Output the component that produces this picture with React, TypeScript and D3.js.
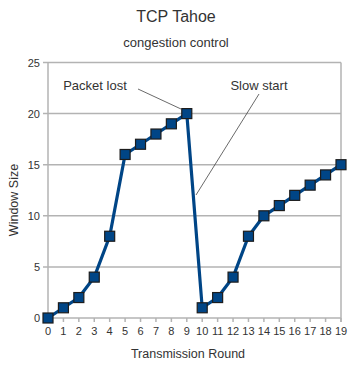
import React from "react";
import * as d3 from "d3";

// transmission rounds and congestion window size
const rounds = [0, 1, 2, 3, 4, 5, 6, 7, 8, 9, 10, 11, 12, 13, 14, 15, 16, 17, 18, 19];
const windowSize = [0, 1, 2, 4, 8, 16, 17, 18, 19, 20, 1, 2, 4, 8, 10, 11, 12, 13, 14, 15];
const yTicks = [0, 5, 10, 15, 20, 25];

const App = () => {
   const width = 351;
   const height = 365;
   const margin = { top: 62.5, right: 10, bottom: 47, left: 48 };

   const x = d3.scaleLinear().domain([0, 19]).range([margin.left, width - margin.right]);
   const y = d3.scaleLinear().domain([0, 25]).range([height - margin.bottom, margin.top]);

   const points: [number, number][] = rounds.map((r, i) => [r, windowSize[i]]);
   const line = d3
      .line<[number, number]>()
      .x((d) => x(d[0]))
      .y((d) => y(d[1]));

   const font = "'Liberation Sans', Arial, sans-serif";
   const grid = "#b3b3b3";
   const text = "#333333";

   return (
      <svg
         width={width}
         height={height}
         style={{ position: "absolute", left: 0, top: 0, fontFamily: font }}
      >
         <rect width={width} height={height} fill="#fff" />
         <text x={176} y={22} textAnchor="middle" fontSize={16} fill={text}>
            TCP Tahoe
         </text>
         <text x={176} y={47} textAnchor="middle" fontSize={13} fill={text}>
            congestion control
         </text>

         {/* horizontal grid + left ticks */}
         {yTicks.map((t) => (
            <g key={t}>
               <line x1={x(0) - 5} x2={x(19)} y1={y(t)} y2={y(t)} stroke={grid} strokeWidth={1.5} />
               <text x={x(0) - 8} y={y(t) + 4} textAnchor="end" fontSize={11} fill={text}>
                  {t}
               </text>
            </g>
         ))}
         <line x1={x(0)} x2={x(0)} y1={y(25)} y2={y(0) + 4} stroke={grid} strokeWidth={1.5} />
         <line x1={x(19)} x2={x(19)} y1={y(25)} y2={y(0) + 4} stroke={grid} strokeWidth={1.5} />

         {/* bottom ticks */}
         {rounds.map((r) => (
            <g key={r}>
               <line x1={x(r)} x2={x(r)} y1={y(0)} y2={y(0) + 4} stroke={grid} strokeWidth={1.5} />
               <text x={x(r)} y={y(0) + 17} textAnchor="middle" fontSize={11} fill={text}>
                  {r}
               </text>
            </g>
         ))}

         <text x={188} y={358} textAnchor="middle" fontSize={12.5} fill={text}>
            Transmission Round
         </text>
         <text
            transform={`translate(18,200) rotate(-90)`}
            textAnchor="middle"
            fontSize={12.5}
            fill={text}
         >
            Window Size
         </text>

         {/* annotations */}
         <text x={95} y={90} textAnchor="middle" fontSize={13} fill={text}>
            Packet lost
         </text>
         <line x1={138} y1={89} x2={181} y2={109} stroke="#444" strokeWidth={0.8} />
         <text x={259} y={90} textAnchor="middle" fontSize={13} fill={text}>
            Slow start
         </text>
         <line x1={259} y1={94} x2={196} y2={195} stroke="#444" strokeWidth={0.8} />

         <path d={line(points) ?? ""} fill="none" stroke="#004586" strokeWidth={3.2} />
         {points.map((p, i) => (
            <rect
               key={i}
               x={x(p[0]) - 5}
               y={y(p[1]) - 5}
               width={10}
               height={10}
               fill="#004586"
               stroke="#1c1c1c"
               strokeWidth={1.2}
            />
         ))}
      </svg>
   );
};

export default App;
